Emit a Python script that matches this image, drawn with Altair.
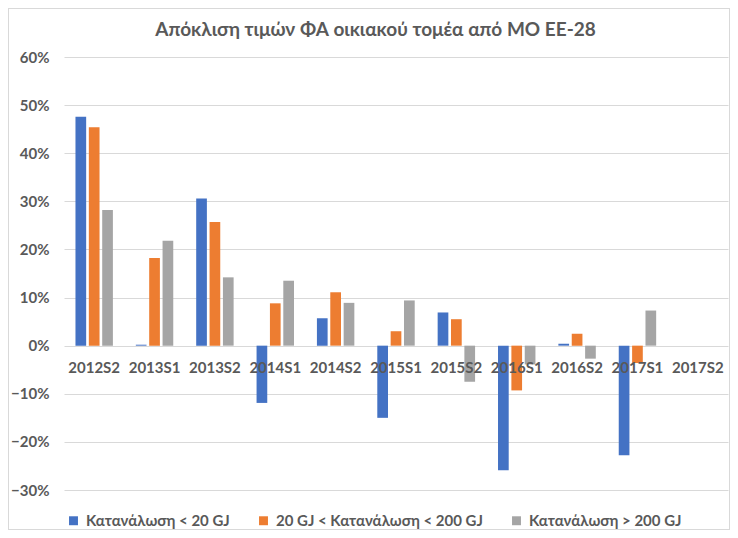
import altair as alt
import pandas as pd

title_text = "Απόκλιση τιμών ΦΑ οικιακού τομέα από ΜΟ ΕΕ-28"
categories = ["2012S2", "2013S1", "2013S2", "2014S1", "2014S2", "2015S1",
              "2015S2", "2016S1", "2016S2", "2017S1", "2017S2"]
series_names = ["Κατανάλωση < 20 GJ", "20 GJ < Κατανάλωση < 200 GJ", "Κατανάλωση > 200 GJ"]
low = [0.476, 0.002, 0.306, -0.119, 0.057, -0.150, 0.069, -0.259, 0.004, -0.228, None]
mid = [0.454, 0.182, 0.257, 0.088, 0.111, 0.030, 0.055, -0.093, 0.025, -0.036, None]
high = [0.282, 0.218, 0.142, 0.135, 0.089, 0.094, -0.075, -0.039, -0.027, 0.073, None]
colors = ["#4472C4", "#ED7D31", "#A5A5A5"]
y_ticks = [-0.3, -0.2, -0.1, 0.0, 0.1, 0.2, 0.3, 0.4, 0.5, 0.6]

rows = []
for name, vals in zip(series_names, [low, mid, high]):
    for c, v in zip(categories, vals):
        if v is not None:
            rows.append({"cat": c, "series": name, "value": v})
df = pd.DataFrame(rows)
cat_df = pd.DataFrame({"cat": categories})
title_df = pd.DataFrame({"t": [title_text]})

FONT = "Lato"
TXT = "#595959"

x_scale = alt.Scale(domain=categories, paddingInner=0.38, paddingOuter=0.19)
y_scale = alt.Scale(domain=[-0.3, 0.6], nice=False)

bars = alt.Chart(df).mark_bar().encode(
    x=alt.X("cat:N", scale=x_scale, axis=None),
    xOffset=alt.XOffset("series:N", sort=series_names,
                        scale=alt.Scale(domain=series_names, paddingInner=0.2, paddingOuter=0)),
    y=alt.Y("value:Q", scale=y_scale,
            axis=alt.Axis(values=y_ticks, format=".0%", title=None, domain=False,
                          ticks=False, grid=True, gridColor="#d9d9d9", labelPadding=15,
                          labelFontSize=15, labelColor=TXT, labelFont=FONT,
                          labelFontWeight="bold")),
    color=alt.Color("series:N", sort=series_names,
                    scale=alt.Scale(domain=series_names, range=colors),
                    legend=alt.Legend(title=None, orient="none", direction="horizontal",
                                      legendX=2, legendY=456, symbolType="square",
                                      symbolSize=80, symbolStrokeWidth=0,
                                      labelFontSize=15, labelColor=TXT, labelFont=FONT,
                                      labelFontWeight="bold", labelLimit=400,
                                      columnPadding=26, labelOffset=5)),
)

labels = alt.Chart(cat_df).mark_text(
    font=FONT, fontSize=15, fontWeight="bold", color=TXT, dy=22, baseline="middle"
).encode(
    x=alt.X("cat:N", scale=x_scale, axis=None),
    y=alt.YDatum(0),
    text="cat:N",
)

title = alt.Chart(title_df).mark_text(
    font=FONT, fontSize=19, fontWeight="bold", color=TXT, align="center", baseline="middle"
).encode(
    x=alt.value(311.5), y=alt.value(-27), text="t:N",
)

border = alt.Chart(cat_df).mark_rect(fill=None, stroke="#d9d9d9", strokeWidth=1).encode(
    x=alt.value(-55.5), x2=alt.value(665.5), y=alt.value(-48.5), y2=alt.value(472.5)
)

chart = alt.layer(border, bars, labels, title).properties(
    width=664, height=433,
    autosize=alt.AutoSizeParams(type="none"),
    padding={"left": 56, "top": 49, "right": 2, "bottom": 40},
).configure_view(stroke=None)

chart.save("out.html", embed_options={"renderer": "svg", "actions": False})
